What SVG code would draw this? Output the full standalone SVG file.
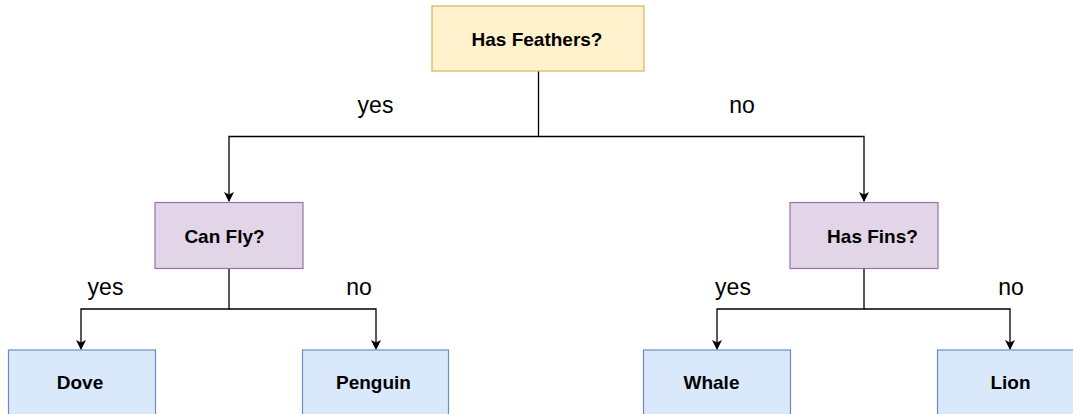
<svg xmlns="http://www.w3.org/2000/svg" width="1073" height="414" viewBox="0 0 1073 414">
  <style>
    .node rect { stroke-width: 1.2; }
    .q rect { fill: #e1d5e7; stroke: #9673a6; }
    .leaf rect { fill: #dae8fc; stroke: #6c8ebf; }
    .root rect { fill: #fff2cc; stroke: #d6b656; }
    .node text { font-family: "Liberation Sans", Arial, sans-serif; font-weight: bold; font-size: 19px; fill: #000; text-anchor: middle; }
    .lbl { font-family: "Liberation Sans", Arial, sans-serif; font-size: 23px; fill: #000; text-anchor: middle; }
    .edge { fill: none; stroke: #000; stroke-width: 1.3; }
  </style>
  <defs>
    <marker id="arrow" viewBox="0 0 10 10" refX="9" refY="5" markerWidth="10" markerHeight="10" markerUnits="userSpaceOnUse" orient="auto">
      <path d="M0,0 L10,5 L0,10 L2.5,5 Z" fill="#000"/>
    </marker>
  </defs>
  <rect width="1073" height="414" fill="#fff"/>

  <!-- connectors -->
  <g id="connectors">
    <path class="edge" d="M538.5,71 V136.5 H229 V201" marker-end="url(#arrow)"/>
    <path class="edge" d="M538.5,136.5 H864 V201" marker-end="url(#arrow)"/>
    <path class="edge" d="M229,268 V309 H81 V349" marker-end="url(#arrow)"/>
    <path class="edge" d="M229,309 H376 V349" marker-end="url(#arrow)"/>
    <path class="edge" d="M864,268 V309 H717 V349" marker-end="url(#arrow)"/>
    <path class="edge" d="M864,309 H1010 V349" marker-end="url(#arrow)"/>
  </g>

  <!-- branch labels -->
  <g id="labels">
    <text class="lbl" x="375.5" y="113">yes</text>
    <text class="lbl" x="742" y="113">no</text>
    <text class="lbl" x="105.5" y="295">yes</text>
    <text class="lbl" x="359" y="295">no</text>
    <text class="lbl" x="733" y="295">yes</text>
    <text class="lbl" x="1011" y="295">no</text>
  </g>

  <g id="has-feathers" class="node root">
    <rect x="432" y="6" width="212" height="65"/>
    <text x="537" y="46">Has Feathers?</text>
  </g>
  <g id="can-fly" class="node q">
    <rect x="155" y="202.5" width="148" height="66"/>
    <text x="224.5" y="243">Can Fly?</text>
  </g>
  <g id="has-fins" class="node q">
    <rect x="790" y="202.5" width="148" height="66"/>
    <text x="872.5" y="243">Has Fins?</text>
  </g>
  <g id="dove" class="node leaf">
    <rect x="8.5" y="350" width="147" height="70"/>
    <text x="80" y="389">Dove</text>
  </g>
  <g id="penguin" class="node leaf">
    <rect x="302.5" y="350" width="146" height="70"/>
    <text x="373.5" y="389">Penguin</text>
  </g>
  <g id="whale" class="node leaf">
    <rect x="643.5" y="350" width="147" height="70"/>
    <text x="711.5" y="389">Whale</text>
  </g>
  <g id="lion" class="node leaf">
    <rect x="937.5" y="350" width="147" height="70"/>
    <text x="1010.5" y="389">Lion</text>
  </g>
</svg>
